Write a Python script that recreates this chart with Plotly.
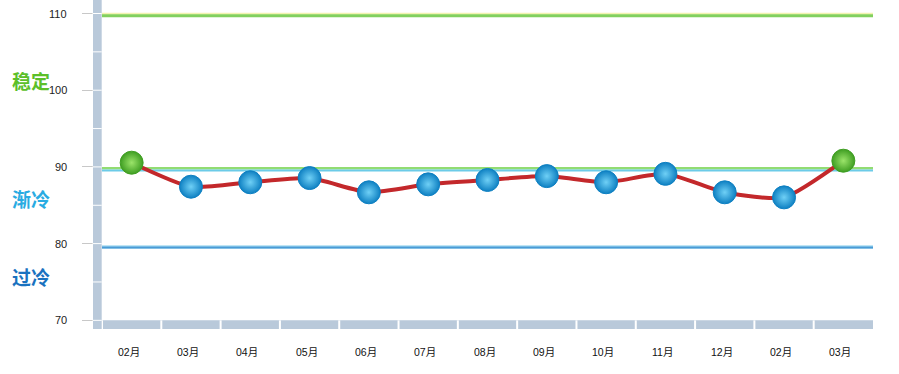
import plotly.graph_objects as go

months = ["02月", "03月", "04月", "05月", "06月", "07月", "08月", "09月", "10月", "11月", "12月", "02月", "03月"]
values = [90.55, 87.42, 88.0, 88.55, 86.69, 87.73, 88.3, 88.8, 88.0, 89.1, 86.69, 86.03, 90.81]
y_ticks = [70, 80, 90, 100, 110]
zones = [("稳定", 101.33, "#5cbf2a"), ("渐冷", 85.94, "#29abe2"), ("过冷", 75.65, "#1a72bf")]

Y_MIN, Y_MAX = 68.87, 111.76
idx = list(range(len(months)))
W_PLOT = 771.0
BAR = "#b9c9da"

fig = go.Figure()

# line
fig.add_trace(go.Scatter(
    x=idx, y=values, mode="lines",
    line=dict(color="#c3282b", width=4, shape="spline", smoothing=0.6),
    hoverinfo="skip", showlegend=False))

# markers
colors = []
centers = []
for i in idx:
    if i == 0 or i == len(idx) - 1:
        colors.append("#3f9e22")
        centers.append("#9be46a")
    else:
        colors.append("#0e80c2")
        centers.append("#6fd0f6")
fig.add_trace(go.Scatter(
    x=idx, y=values, mode="markers",
    marker=dict(size=23, color=colors,
                gradient=dict(type="radial", color=centers),
                line=dict(color=colors, width=1)),
    showlegend=False))

shapes = []
def hline(y, color, width):
    shapes.append(dict(type="line", xref="x", yref="y", x0=-0.5, x1=12.5, y0=y, y1=y,
                       line=dict(color=color, width=width), layer="below"))

hline(109.98, "#f3f3b0", 2)
hline(109.72, "#82d05e", 3)
hline(89.82, "#92dc72", 2.5)
hline(89.52, "#6ccbe8", 2)
hline(79.55, "#a8dcf2", 3.5)
hline(79.48, "#4a9bd6", 2)

px = 1.0 / W_PLOT
shapes.append(dict(type="rect", xref="paper", yref="y", x0=-9 * px, x1=-0.3 * px,
                   y0=Y_MIN, y1=Y_MAX, fillcolor=BAR, line=dict(width=0), layer="above"))
for v in range(70, 115, 5):
    shapes.append(dict(type="line", xref="paper", yref="y", x0=-9.5 * px, x1=-0.3 * px,
                       y0=v, y1=v, line=dict(color="white", width=1), layer="above"))
shapes.append(dict(type="rect", xref="x", yref="y", x0=-0.5, x1=12.5,
                   y0=Y_MIN, y1=70, fillcolor=BAR, line=dict(width=0), layer="above"))
for k in range(13):
    shapes.append(dict(type="line", xref="x", yref="y", x0=-0.5 + k, x1=-0.5 + k,
                       y0=Y_MIN - 0.2, y1=70, line=dict(color="white", width=2), layer="above"))

annotations = []
for t in y_ticks:
    annotations.append(dict(x=-33 * px, y=t, xref="paper", yref="y", text=str(t),
                            showarrow=False, xanchor="right", yanchor="middle",
                            font=dict(family="Liberation Sans, Arial", size=11, color="#222")))
for i, m in zip(idx, months):
    annotations.append(dict(x=i, y=-23.0 / 329, xref="x", yref="paper", text=m,
                            showarrow=False, xanchor="center", yanchor="middle", xshift=-3,
                            font=dict(family="Liberation Sans, Noto Sans CJK SC", size=10.5, color="#111")))
for name, yv, col in zones:
    annotations.append(dict(x=-71 * px, y=yv, xref="paper", yref="y", text="<b>" + name + "</b>",
                            showarrow=False, xanchor="center", yanchor="middle",
                            font=dict(family="Noto Sans CJK SC", size=19, color=col)))

fig.update_layout(
    width=899, height=374,
    margin=dict(l=102, r=26, t=0, b=45),
    paper_bgcolor="white", plot_bgcolor="white",
    shapes=shapes, annotations=annotations,
    xaxis=dict(range=[-0.5, 12.5], showgrid=False, zeroline=False, showticklabels=False,
               ticks="", fixedrange=True),
    yaxis=dict(range=[Y_MIN, Y_MAX], showgrid=False, zeroline=False, showticklabels=False,
               tickvals=y_ticks, ticks="outside", ticklen=19, tickcolor="#c8c8c8", tickwidth=1),
    showlegend=False,
)

fig.write_html("out.html", config={"displayModeBar": False},
               post_script="document.body.style.margin='0px';document.body.style.overflow='hidden';")
